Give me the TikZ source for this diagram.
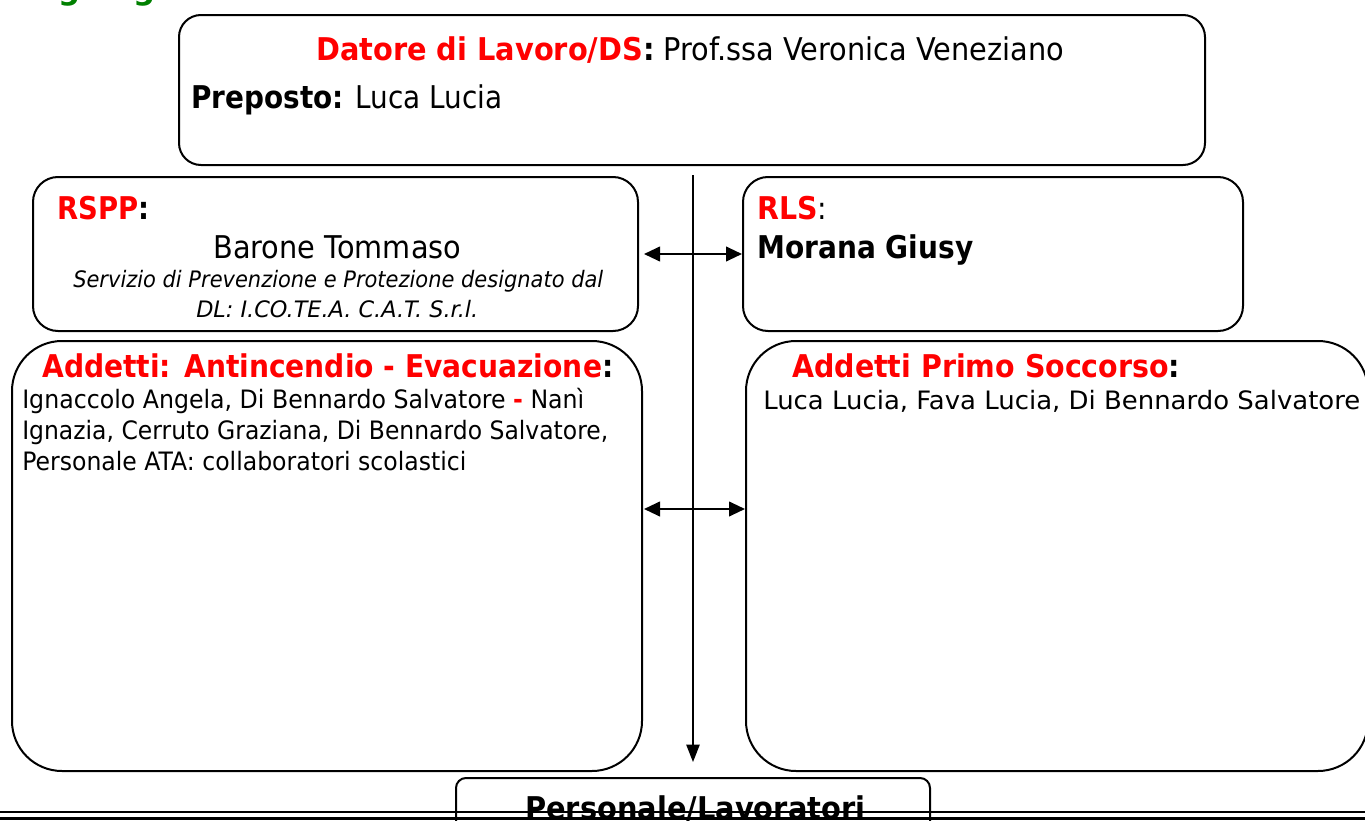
\documentclass[tikz,border=0pt]{standalone}
\usepackage{fontspec}
\setmainfont{DejaVu Sans}
\usepackage{graphicx}
\usetikzlibrary{arrows.meta,calc}
\newdimen\px \px=0.75pt
\definecolor{redc}{RGB}{255,0,0}
\definecolor{greenc}{RGB}{0,128,0}
\newcommand\fw[2]{\resizebox{#1\px}{\height}{#2}}
\newcommand\fbig{\fontsize{23.5}{27}\selectfont}
\newcommand\fline{\fontsize{19}{22}\selectfont}
\newcommand\fital{\fontsize{17}{20}\selectfont\itshape}
\newcommand\redb[1]{\textcolor{redc}{\textbf{#1}}}
\begin{document}
\begin{tikzpicture}[x=0.75pt,y=-0.75pt,
  box/.style={draw, line width=1.5pt, inner sep=0pt, anchor=north west},
  txt/.style={anchor=base west, inner sep=0pt},
  harrow/.style={{Triangle[length=12pt,width=11pt]}-{Triangle[length=12pt,width=11pt]}, line width=1.5pt},
  vline/.style={-{Triangle[length=13pt,width=10pt]}, line width=1pt},
  rule/.style={line width=2pt}]
\useasboundingbox (0,0) rectangle (1365,821);
\clip (0,0) rectangle (1365,821);
% title (cut off at the top)
\node[txt] (title) at (17,-1) {\fw{259}{\fbig\bfseries\color{greenc}Organigramma}};
% boxes
\node[box, rounded corners=16.5pt, minimum width=769.5pt, minimum height=112.5pt] (datore) at (178,14) {};
\node[box, rounded corners=18.75pt, minimum width=453.75pt, minimum height=115.5pt] (rspp) at (32,176) {};
\node[box, rounded corners=18.75pt, minimum width=375pt, minimum height=115.5pt] (rls) at (742,176) {};
\node[box, rounded corners=37.5pt, minimum width=472.5pt, minimum height=322.5pt] (anti) at (11,340) {};
\node[box, rounded corners=37.5pt, minimum width=466.5pt, minimum height=322.5pt] (ps) at (745,340) {};
\node[box, rounded corners=7.5pt, minimum width=355.5pt, minimum height=60pt] (pers) at (455,777) {};
% texts
\node[txt] (tdatore) at (316,60) {\fw{748}{\fbig\redb{Datore di Lavoro/DS}\textbf{:} Prof.ssa Veronica Veneziano}};
\node[txt] (tprep) at (191,108) {\fw{311}{\fbig\textbf{Preposto:} Luca Lucia}};
\node[txt] (trspp) at (57,219) {\fw{92}{\fbig\redb{RSPP}\textbf{:}}};
\node[txt] (tbarone) at (213,258) {\fw{248}{\fbig Barone Tommaso}};
\node[txt] (tserv1) at (73,287) {\fw{530}{\fital Servizio di Prevenzione e Protezione designato dal}};
\node[txt] (tserv2) at (196,317) {\fw{282}{\fital DL: I.CO.TE.A. C.A.T. S.r.l.}};
\node[txt] (trls) at (757,219) {\fw{70}{\fbig\redb{RLS}:}};
\node[txt] (tmorana) at (757,258) {\fw{216}{\fbig\bfseries Morana Giusy}};
\node[txt] (tanti) at (42,377) {\fw{571}{\fbig\redb{Addetti: Antincendio - Evacuazione}\textbf{:}}};
\node[txt] (tanti1) at (22,408) {\fw{562}{\fline Ignaccolo Angela, Di Bennardo Salvatore \redb{-} Nanì}};
\node[txt] (tanti2) at (22,439) {\fw{586}{\fline Ignazia, Cerruto Graziana, Di Bennardo Salvatore,}};
\node[txt] (tanti3) at (22,470) {\fw{444}{\fline Personale ATA: collaboratori scolastici}};
\node[txt] (tps) at (792,377) {\fw{388}{\fbig\redb{Addetti Primo Soccorso}\textbf{:}}};
\node[txt] (tps1) at (763,409) {\fw{597}{\fline Luca Lucia, Fava Lucia, Di Bennardo Salvatore}};
\node[txt] (tpers) at (525,819) {\fw{340}{\fbig\bfseries Personale/Lavoratori}};
% connectors
\draw[vline, shorten <=6.75pt, shorten >=11.25pt] (pers.north |- datore.south) -- (pers.north);
\draw[harrow, shorten <=3.75pt] (rspp.east) -- (rls.west);
\draw[harrow, shorten <=0.75pt] ($(anti.east)+(0,-47)$) -- ($(ps.west)+(0,-47)$);
% page rules
\draw[rule] (0,812) -- (1365,812);
\draw[rule] (0,818.5) -- (1365,818.5);
\end{tikzpicture}
\end{document}
